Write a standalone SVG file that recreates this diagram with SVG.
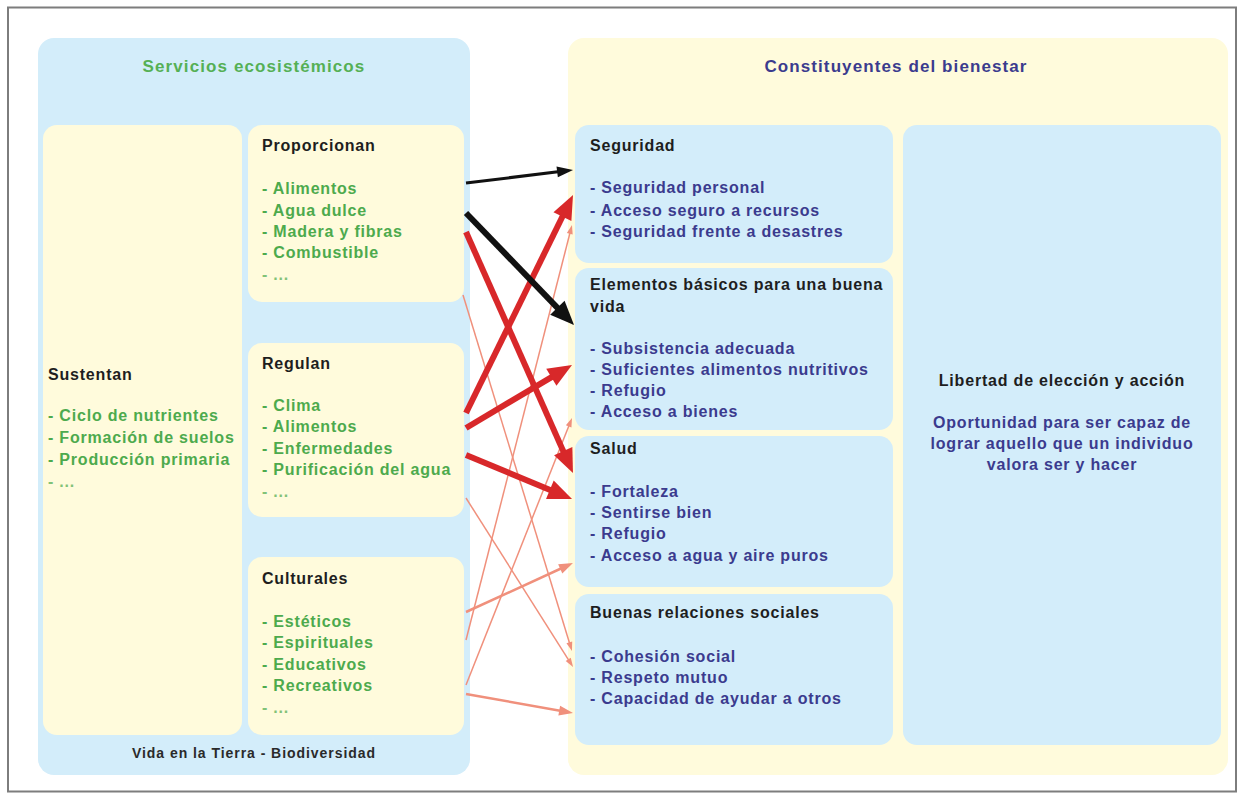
<svg xmlns="http://www.w3.org/2000/svg" width="1243" height="798" viewBox="0 0 1243 798">
  <style>
    text { font-family: "Liberation Sans", Arial, Helvetica, sans-serif; font-weight: bold; }
    .panel-blue { fill: #d3edfa; }
    .panel-yellow { fill: #fffbdc; }
    .title { font-size: 17px; letter-spacing: 1.1px; text-anchor: middle; }
    .head { font-size: 16px; letter-spacing: 0.8px; fill: #1e1e1e; }
    .green { font-size: 16px; letter-spacing: 0.8px; fill: #4daa4d; }
    .blue { font-size: 16px; letter-spacing: 0.8px; fill: #3b3b8e; }
    .foot { font-size: 14px; letter-spacing: 0.95px; fill: #2a2a2a; text-anchor: middle; }
    .mid { text-anchor: middle; }
    .c-black { stroke: #111; fill: none; }
    .c-red { stroke: #d8282a; fill: none; stroke-width: 6; }
    .c-salmon { stroke: #f0907c; fill: none; }
  </style>
  <defs>
    <marker id="hBlackS" markerUnits="userSpaceOnUse" markerWidth="16" markerHeight="11" refX="9" refY="5.5" orient="auto" overflow="visible">
      <path d="M0,0 L16,5.5 L0,11 z" fill="#111"/>
    </marker>
    <marker id="hBlackL" markerUnits="userSpaceOnUse" markerWidth="24" markerHeight="20" refX="14" refY="10" orient="auto" overflow="visible">
      <path d="M0,0 L24,10 L0,20 z" fill="#111"/>
    </marker>
    <marker id="hRed" markerUnits="userSpaceOnUse" markerWidth="24" markerHeight="20" refX="14" refY="10" orient="auto" overflow="visible">
      <path d="M0,0 L24,10 L0,20 z" fill="#d8282a"/>
    </marker>
    <marker id="hSalmonS" markerUnits="userSpaceOnUse" markerWidth="9" markerHeight="6" refX="5" refY="3" orient="auto" overflow="visible">
      <path d="M0,0 L9,3 L0,6 z" fill="#f0907c"/>
    </marker>
    <marker id="hSalmonM" markerUnits="userSpaceOnUse" markerWidth="14" markerHeight="10" refX="8" refY="5" orient="auto" overflow="visible">
      <path d="M0,0 L14,5 L0,10 z" fill="#f0907c"/>
    </marker>
  </defs>

  <!-- frame -->
  <rect x="0" y="0" width="1243" height="798" fill="#ffffff"/>
  <rect x="8" y="7.5" width="1228" height="784" fill="none" stroke="#7d7d7d" stroke-width="2"/>

  <!-- ecosystem services panel -->
  <g id="servicios">
    <rect class="panel-blue" x="38" y="38" width="432" height="737" rx="16"/>
    <text class="title" x="254" y="72" fill="#55b055">Servicios ecosistémicos</text>
    <text class="foot" x="254" y="758">Vida en la Tierra - Biodiversidad</text>
  </g>

  <g id="sustentan">
    <rect class="panel-yellow" x="43" y="125" width="199" height="610" rx="14"/>
    <text class="head" x="48" y="380">Sustentan</text>
    <text class="green" x="48" y="421">- Ciclo de nutrientes</text>
    <text class="green" x="48" y="443">- Formación de suelos</text>
    <text class="green" x="48" y="465">- Producción primaria</text>
    <text class="green" x="48" y="487" opacity="0.7">- ...</text>
  </g>

  <g id="proporcionan">
    <rect class="panel-yellow" x="248" y="125" width="216" height="177" rx="14"/>
    <text class="head" x="262" y="151">Proporcionan</text>
    <text class="green" x="262" y="194">- Alimentos</text>
    <text class="green" x="262" y="216">- Agua dulce</text>
    <text class="green" x="262" y="237">- Madera y fibras</text>
    <text class="green" x="262" y="258">- Combustible</text>
    <text class="green" x="262" y="280" opacity="0.7">- ...</text>
  </g>

  <g id="regulan">
    <rect class="panel-yellow" x="248" y="343" width="216" height="174" rx="14"/>
    <text class="head" x="262" y="369">Regulan</text>
    <text class="green" x="262" y="411">- Clima</text>
    <text class="green" x="262" y="432">- Alimentos</text>
    <text class="green" x="262" y="454">- Enfermedades</text>
    <text class="green" x="262" y="475">- Purificación del agua</text>
    <text class="green" x="262" y="497" opacity="0.7">- ...</text>
  </g>

  <g id="culturales">
    <rect class="panel-yellow" x="248" y="557" width="216" height="178" rx="14"/>
    <text class="head" x="262" y="584">Culturales</text>
    <text class="green" x="262" y="627">- Estéticos</text>
    <text class="green" x="262" y="648">- Espirituales</text>
    <text class="green" x="262" y="670">- Educativos</text>
    <text class="green" x="262" y="691">- Recreativos</text>
    <text class="green" x="262" y="713" opacity="0.7">- ...</text>
  </g>

  <!-- well-being panel -->
  <g id="bienestar">
    <rect class="panel-yellow" x="568" y="38" width="660" height="737" rx="16"/>
    <text class="title" x="896" y="72" fill="#3b3b8e">Constituyentes del bienestar</text>
  </g>

  <g id="seguridad">
    <rect class="panel-blue" x="575" y="125" width="318" height="138" rx="14"/>
    <text class="head" x="590" y="151">Seguridad</text>
    <text class="blue" x="590" y="193">- Seguridad personal</text>
    <text class="blue" x="590" y="216">- Acceso seguro a recursos</text>
    <text class="blue" x="590" y="237">- Seguridad frente a desastres</text>
  </g>

  <g id="elementos">
    <rect class="panel-blue" x="575" y="268" width="318" height="162" rx="14"/>
    <text class="head" x="590" y="290">Elementos básicos para una buena</text>
    <text class="head" x="590" y="312">vida</text>
    <text class="blue" x="590" y="354">- Subsistencia adecuada</text>
    <text class="blue" x="590" y="375">- Suficientes alimentos nutritivos</text>
    <text class="blue" x="590" y="396">- Refugio</text>
    <text class="blue" x="590" y="417">- Acceso a bienes</text>
  </g>

  <g id="salud">
    <rect class="panel-blue" x="575" y="436" width="318" height="151" rx="14"/>
    <text class="head" x="590" y="454">Salud</text>
    <text class="blue" x="590" y="497">- Fortaleza</text>
    <text class="blue" x="590" y="518">- Sentirse bien</text>
    <text class="blue" x="590" y="539">- Refugio</text>
    <text class="blue" x="590" y="561">- Acceso a agua y aire puros</text>
  </g>

  <g id="relaciones">
    <rect class="panel-blue" x="575" y="594" width="318" height="151" rx="14"/>
    <text class="head" x="590" y="618">Buenas relaciones sociales</text>
    <text class="blue" x="590" y="662">- Cohesión social</text>
    <text class="blue" x="590" y="683">- Respeto mutuo</text>
    <text class="blue" x="590" y="704">- Capacidad de ayudar a otros</text>
  </g>

  <g id="libertad">
    <rect class="panel-blue" x="903" y="125" width="318" height="620" rx="14"/>
    <text class="head mid" x="1062" y="386">Libertad de elección y acción</text>
    <text class="blue mid" x="1062" y="428">Oportunidad para ser capaz de</text>
    <text class="blue mid" x="1062" y="449">lograr aquello que un individuo</text>
    <text class="blue mid" x="1062" y="470">valora ser y hacer</text>
  </g>

  <!-- links: weak (salmon), strong (red), and black -->
  <g id="connectors">
    <line class="c-salmon" stroke-width="1.5" x1="466" y1="498" x2="570.9" y2="663.6" marker-end="url(#hSalmonS)"/>
    <line class="c-salmon" stroke-width="1.5" x1="463" y1="295" x2="570.8" y2="647.2" marker-end="url(#hSalmonS)"/>
    <line class="c-salmon" stroke-width="1.5" x1="466" y1="640" x2="571.0" y2="228.9" marker-end="url(#hSalmonS)"/>
    <line class="c-salmon" stroke-width="1.5" x1="466" y1="685" x2="570.5" y2="421.7" marker-end="url(#hSalmonS)"/>
    <line class="c-salmon" stroke-width="2.5" x1="466" y1="612" x2="567.5" y2="565.5" marker-end="url(#hSalmonM)"/>
    <line class="c-salmon" stroke-width="2.5" x1="466" y1="694" x2="567.1" y2="712.0" marker-end="url(#hSalmonM)"/>

    <line class="c-red" x1="466" y1="232" x2="568.9" y2="463.9" marker-end="url(#hRed)"/>
    <line class="c-red" x1="466" y1="413" x2="568.6" y2="204.0" marker-end="url(#hRed)"/>
    <line class="c-red" x1="466" y1="428" x2="563.4" y2="370.1" marker-end="url(#hRed)"/>
    <line class="c-red" x1="466" y1="455" x2="562.8" y2="495.2" marker-end="url(#hRed)"/>

    <line class="c-black" stroke-width="3" x1="466" y1="183" x2="566.1" y2="170.8" marker-end="url(#hBlackS)"/>
    <line class="c-black" stroke-width="6" x1="466" y1="213" x2="567.1" y2="317.8" marker-end="url(#hBlackL)"/>
  </g>
</svg>
